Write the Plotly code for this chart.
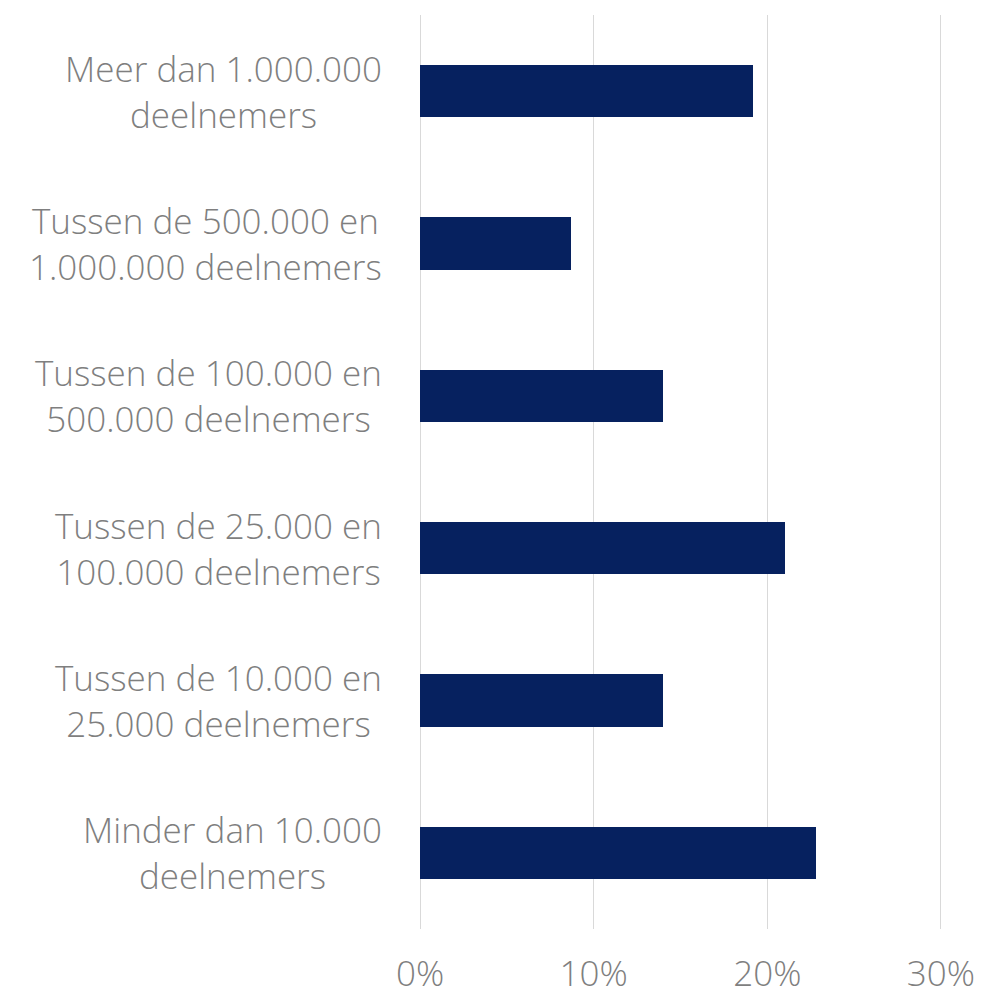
import plotly.graph_objects as go

# Pension funds grouped by number of participants (top to bottom)
categories = [
    "Meer dan 1.000.000<br>deelnemers",
    "Tussen de 500.000 en<br>1.000.000 deelnemers",
    "Tussen de 100.000 en<br>500.000 deelnemers",
    "Tussen de 25.000 en<br>100.000 deelnemers",
    "Tussen de 10.000 en<br>25.000 deelnemers",
    "Minder dan 10.000<br>deelnemers",
]
shares = [19.2, 8.7, 14.0, 21.0, 14.0, 22.8]  # percent
tick_values = [0, 10, 20, 30]
tick_labels = ["0%", "10%", "20%", "30%"]

TEXT_GREY = "#7f7f7f"
NAVY = "#06215f"
FONT = "Open Sans"

# Slight padding so the 0% and 30% gridlines are drawn inside the plot area
PAD = 0.06

fig = go.Figure(
    go.Bar(
        x=shares,
        y=categories,
        orientation="h",
        width=0.345,
        marker=dict(color=NAVY, line=dict(width=0)),
        hoverinfo="skip",
    )
)

# Category labels as centred two-line text blocks right-aligned to the plot edge
for cat in categories:
    fig.add_annotation(
        x=0, xref="paper", y=cat, yref="y",
        text=cat, showarrow=False,
        xanchor="right", yanchor="middle", align="center",
        xshift=-35,
        font=dict(family=FONT, size=35, color=TEXT_GREY, weight=300),
    )

fig.update_layout(
    width=985, height=997,
    margin=dict(l=419, r=43, t=15, b=68, autoexpand=False),
    paper_bgcolor="white", plot_bgcolor="white",
    showlegend=False,
    bargap=0,
)
fig.update_xaxes(
    range=[-PAD, 30 + PAD],
    automargin=False,
    tickvals=tick_values, ticktext=tick_labels,
    showgrid=True, gridcolor="#d9d9d9", gridwidth=1,
    zeroline=False, showline=False,
    ticks="", ticklabelstandoff=21,
    tickfont=dict(family=FONT, size=35, color=TEXT_GREY, weight=300),
)
fig.update_yaxes(
    automargin=False,
    categoryorder="array", categoryarray=categories[::-1],
    showticklabels=False, showgrid=False, zeroline=False, showline=False,
)

fig.write_html("out.html")
